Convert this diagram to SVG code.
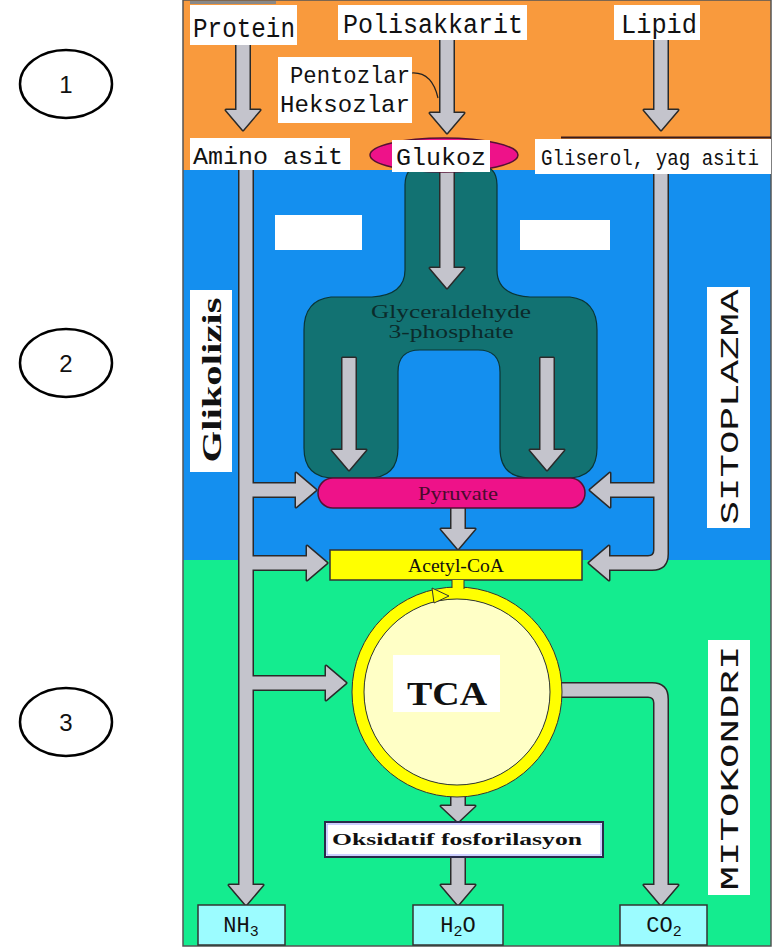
<svg xmlns="http://www.w3.org/2000/svg" xmlns:xlink="http://www.w3.org/1999/xlink" width="775" height="952" viewBox="0 0 775 952">
<style>
.mono{font-family:"Liberation Mono","Courier New",monospace;fill:#111}
.serif{font-family:"Liberation Serif","Times New Roman",serif;fill:#111}
.wbox{fill:#fff}
.prod{fill:#9cfcff;stroke:#333;stroke-width:1.5}
.num{font-family:"Liberation Sans",Arial,sans-serif;font-size:24px;fill:#111;text-anchor:middle}
.circ{fill:#fff;stroke:#000;stroke-width:2.5}
.pipeOut{fill:#2a2a2a;stroke:#2a2a2a;stroke-width:3;stroke-linejoin:round}
.pipeIn{fill:#c4c4cc;stroke:none}
</style>
<defs>
<g id="pipes">
<path d="M236.5,45 V110 H226 L243,130 L260,110 H249.5 V45 Z"/>
<path d="M440.5,40 V113 H430 L447,133 L464,113 H453.5 V40 Z"/>
<path d="M654.5,40 V110 H644 L661,130 L678,110 H667.5 V40 Z"/>
<path d="M440.5,172 V268 H430 L447,288 L464,268 H453.5 V172 Z"/>
<path d="M342.5,358 V450 H332 L349,470 L366,450 H355.5 V358 Z"/>
<path d="M540.5,358 V450 H530 L547,470 L564,450 H553.5 V358 Z"/>
<path d="M239.5,170 V885 H229 L246,905 L263,885 H252.5 V170 Z"/>
<path d="M246,483.5 H296 V473 L316,490 L296,507 V496.5 H246 Z"/>
<path d="M246,556.5 H307 V546 L327,563 L307,580 V569.5 H246 Z"/>
<path d="M246,676.5 H326 V666 L346,683 L326,700 V689.5 H246 Z"/>
<path d="M654.5,174 V550 Q654.5,556.5 648,556.5 H609 V546 L589,563 L609,580 V569.5 H652 Q667.5,569.5 667.5,554 V174 Z"/>
<path d="M661,483.5 H610 V473 L590,490 L610,507 V496.5 H661 Z"/>
<path d="M451.5,508 V529 H441 L458,549 L475,529 H464.5 V508 Z"/>
<path d="M555,683.5 H652 Q667.5,683.5 667.5,699 V885 H678 L661,905 L644,885 H654.5 V703 Q654.5,696.5 648,696.5 H555 Z"/>
<path d="M451.5,795 V806 H441 L458,822 L475,806 H464.5 V795 Z"/>
<path d="M451.5,857 V885 H441 L458,905 L475,885 H464.5 V857 Z"/>
</g>
</defs>
<rect width="775" height="952" fill="#fff"/>
<g id="background">
<rect x="183" y="0" width="588" height="170" fill="#f99a3d"/>
<rect x="183" y="170" width="588" height="390" fill="#148fef"/>
<rect x="183" y="560" width="588" height="386" fill="#14ec8f"/>
<rect x="183" y="0" width="588" height="946" fill="none" stroke="#555" stroke-width="1.5"/>
<line x1="190" y1="2.5" x2="276" y2="2.5" stroke="#888" stroke-width="3"/>
<rect x="275" y="215" width="87" height="35" fill="#fff"/>
<rect x="520" y="220" width="90" height="30" fill="#fff"/>
</g>
<g id="glycolysis-shape">
<path d="M405,185 Q405,165 425,165 L477,165 Q497,165 497,185 L497,270 Q497,295 530,297 L570,297 Q597,300 597,330 L597,448 Q597,478 567,478 L530,478 Q500,478 500,448 L500,372 Q500,350 478,350 L420,350 Q398,350 398,372 L398,448 Q398,478 368,478 L334,478 Q304,478 304,448 L304,330 Q304,300 331,297 L372,297 Q405,295 405,270 Z" fill="#127272" stroke="#0a3535" stroke-width="1.2"/>
<text class="serif" x="451" y="318" font-size="19" text-anchor="middle" textLength="160" lengthAdjust="spacingAndGlyphs" style="fill:#0b2b2b">Glyceraldehyde</text>
<text class="serif" x="451" y="338" font-size="19" text-anchor="middle" textLength="125" lengthAdjust="spacingAndGlyphs" style="fill:#0b2b2b">3-phosphate</text>
</g>
<g id="connectors">
<use xlink:href="#pipes" class="pipeOut"/>
<use xlink:href="#pipes" class="pipeIn"/>
<path d="M412,73 Q432,72 438,98" fill="none" stroke="#222" stroke-width="1.2"/>
</g>
<g id="protein">
<rect class="wbox" x="190" y="5" width="107" height="40"/>
<text class="mono" x="193" y="37" font-size="27" textLength="102" lengthAdjust="spacingAndGlyphs">Protein</text>
</g>
<g id="polisakkarit">
<rect class="wbox" x="338" y="5" width="189" height="35"/>
<text class="mono" x="343" y="33" font-size="27" textLength="180" lengthAdjust="spacingAndGlyphs">Polisakkarit</text>
</g>
<g id="lipid">
<rect class="wbox" x="614" y="5" width="86" height="35"/>
<text class="mono" x="621" y="33" font-size="27" textLength="76" lengthAdjust="spacingAndGlyphs">Lipid</text>
</g>
<g id="pentoz-heksoz">
<rect class="wbox" x="278" y="57" width="134" height="66"/>
<text class="mono" x="290" y="83" font-size="24" textLength="120" lengthAdjust="spacingAndGlyphs">Pentozlar</text>
<text class="mono" x="280" y="112" font-size="24" textLength="130" lengthAdjust="spacingAndGlyphs">Heksozlar</text>
</g>
<g id="amino-asit">
<rect class="wbox" x="190" y="138" width="160" height="32"/>
<text class="mono" x="193" y="164" font-size="24" textLength="150" lengthAdjust="spacingAndGlyphs">Amino asit</text>
</g>
<g id="glukoz">
<ellipse cx="444" cy="155" rx="74" ry="17" fill="#ee1289" stroke="#551133" stroke-width="1.5"/>
<rect class="wbox" x="392" y="140" width="98" height="32"/>
<text class="mono" x="396" y="165" font-size="24" textLength="90" lengthAdjust="spacingAndGlyphs">Glukoz</text>
</g>
<g id="gliserol">
<line x1="561" y1="137.5" x2="771" y2="137.5" stroke="#3a1a1a" stroke-width="2"/>
<rect class="wbox" x="535" y="139" width="236" height="35"/>
<text class="mono" x="541" y="165" font-size="22" textLength="218" lengthAdjust="spacingAndGlyphs">Gliserol, yag asiti</text>
</g>
<g id="glikolizis">
<rect class="wbox" x="190" y="290" width="42" height="182"/>
<text class="serif" x="211" y="390" font-size="28" font-weight="bold" text-anchor="middle" transform="rotate(-90 211 380)" textLength="165" lengthAdjust="spacingAndGlyphs">Glikolizis</text>
</g>
<g id="sitoplazma">
<rect class="wbox" x="707" y="287" width="43" height="241"/>
<text class="mono" x="729" y="416" font-size="26" text-anchor="middle" transform="rotate(-90 729 407)" textLength="235" lengthAdjust="spacingAndGlyphs">SITOPLAZMA</text>
</g>
<g id="pyruvate">
<rect x="318" y="478" width="267" height="30" rx="15" fill="#ee1289" stroke="#551133" stroke-width="1.5"/>
<text class="serif" x="458" y="500" font-size="19" text-anchor="middle" textLength="80" lengthAdjust="spacingAndGlyphs" style="fill:#4b0b2e">Pyruvate</text>
</g>
<g id="acetyl-coa">
<rect x="330" y="550" width="252" height="30" fill="#ffff00" stroke="#333" stroke-width="1.5"/>
<text class="serif" x="456" y="572" font-size="19" text-anchor="middle" textLength="96" lengthAdjust="spacingAndGlyphs">Acetyl-CoA</text>
</g>
<g id="tca">
<circle cx="457" cy="692" r="93" fill="#ffffc6"/>
<circle cx="457" cy="692" r="99" fill="none" stroke="#ffff00" stroke-width="12"/>
<circle cx="457" cy="692" r="105" fill="none" stroke="#333" stroke-width="1"/>
<circle cx="457" cy="692" r="93" fill="none" stroke="#333" stroke-width="1"/>
<path d="M452,580 V595 H464 V580 Z" fill="#ffff00"/>
<path d="M452,580 V588 M464,580 V589" stroke="#333" stroke-width="1"/>
<path d="M432,588 L449,596 L434,603 Z" fill="#ffff00" stroke="#333" stroke-width="1"/>
<rect class="wbox" x="393" y="655" width="107" height="57"/>
<text class="serif" x="447" y="705" font-size="34" font-weight="bold" text-anchor="middle" textLength="80" lengthAdjust="spacingAndGlyphs">TCA</text>
</g>
<g id="mitokondri">
<rect class="wbox" x="708" y="640" width="42" height="255"/>
<text class="mono" x="729" y="777" font-size="26" text-anchor="middle" transform="rotate(-90 729 768)" textLength="245" lengthAdjust="spacingAndGlyphs">MITOKONDRI</text>
</g>
<g id="oksidatif">
<rect x="325" y="822" width="278" height="35" fill="#fff" stroke="#2a2a4a" stroke-width="2"/>
<rect x="327" y="824" width="274" height="31" fill="none" stroke="#9aa0ff" stroke-width="1"/>
<text class="serif" x="457" y="845" font-size="17" font-weight="bold" text-anchor="middle" textLength="250" lengthAdjust="spacingAndGlyphs">Oksidatif fosforilasyon</text>
</g>
<g id="nh3">
<rect class="prod" x="198" y="905" width="87" height="40"/>
<text class="mono" x="241" y="932" font-size="22" text-anchor="middle">NH<tspan font-size="15" dy="4">3</tspan></text>
</g>
<g id="h2o">
<rect class="prod" x="413" y="905" width="90" height="40"/>
<text class="mono" x="458" y="932" font-size="22" text-anchor="middle">H<tspan font-size="15" dy="4">2</tspan><tspan dy="-4">O</tspan></text>
</g>
<g id="co2">
<rect class="prod" x="620" y="905" width="87" height="40"/>
<text class="mono" x="664" y="932" font-size="22" text-anchor="middle">CO<tspan font-size="15" dy="4">2</tspan></text>
</g>
<g id="step1">
<ellipse class="circ" cx="66" cy="84" rx="46" ry="34"/>
<text class="num" x="66" y="93">1</text>
</g>
<g id="step2">
<ellipse class="circ" cx="66" cy="363" rx="46" ry="34"/>
<text class="num" x="66" y="372">2</text>
</g>
<g id="step3">
<ellipse class="circ" cx="66" cy="722" rx="46" ry="34"/>
<text class="num" x="66" y="731">3</text>
</g>
</svg>
